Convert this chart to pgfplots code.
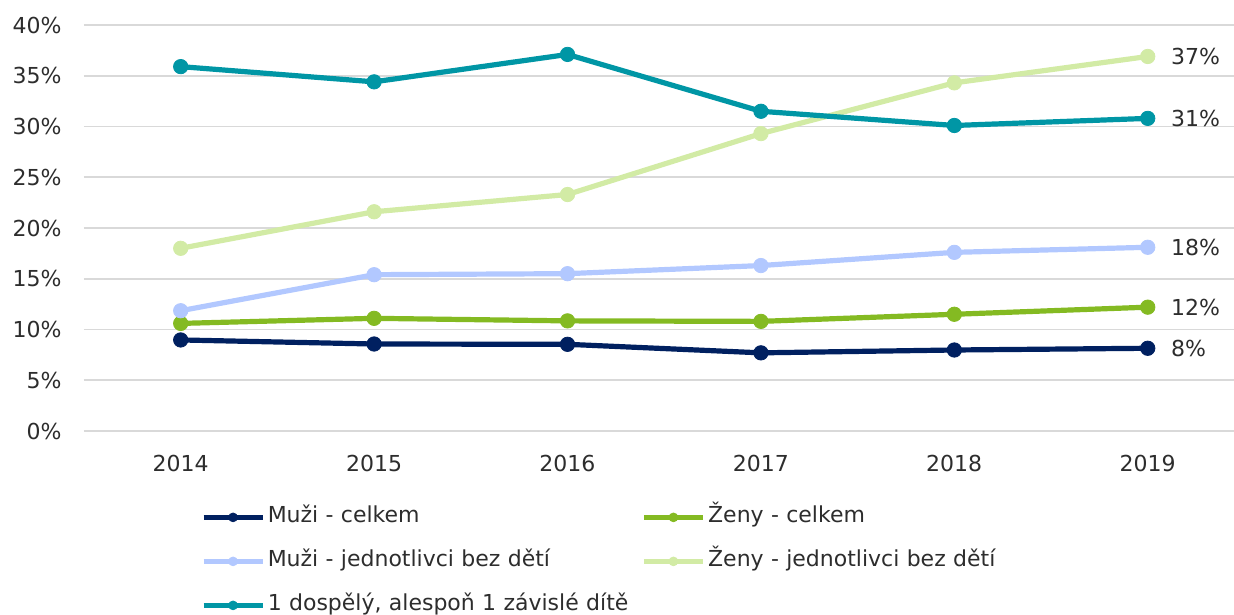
\documentclass[border=0pt]{standalone}
\usepackage{fontspec}
\setmainfont{DejaVu Sans}
\usepackage{pgfplots}
\usepackage{pgfplotstable}
\pgfplotsset{compat=1.18}

\definecolor{navyline}{RGB}{0,32,96}
\definecolor{greenline}{RGB}{132,186,34}
\definecolor{lightblue}{RGB}{178,200,255}
\definecolor{lightgreen}{RGB}{210,235,165}
\definecolor{tealline}{RGB}{0,150,165}
\definecolor{gridgray}{RGB}{217,217,217}
\definecolor{textgray}{RGB}{45,45,45}

% Podíl osob ohrožených příjmovou chudobou (%)
\pgfplotstableread{
year muzi  zeny  muzij zenyj dosp
2014 8.97  10.6  11.85 18.0  35.9
2015 8.57  11.1  15.4  21.6  34.4
2016 8.54  10.85 15.5  23.3  37.1
2017 7.7   10.8  16.3  29.3  31.5
2018 7.98  11.5  17.6  34.3  30.1
2019 8.15  12.2  18.1  36.9  30.8
}\chudoba

\pgfplotsset{
  serie/.style={color=#1, line width=2.6pt, mark=*, mark size=3.6pt,
    mark options={line width=0.4pt, fill=#1, draw=#1}},
  endlabel/.style={draw=none, mark=none, forget plot, point meta=y,
    restrict x to domain=2018.5:2019.5,
    nodes near coords={\pgfmathprintnumber[fixed,precision=0]{\pgfplotspointmeta}\%},
    every node near coord/.append style={anchor=west, inner sep=0pt,
      xshift=11.5pt, text=textgray}},
}

\begin{document}
\begin{tikzpicture}[font=\fontsize{11}{13}\selectfont]
\begin{axis}[
  name=ax,
  scale only axis,
  width=575pt, height=203pt,
  xmin=2013.5, xmax=2019.446,
  ymin=0, ymax=40,
  xtick={2014,...,2019},
  ytick={0,5,...,40},
  /pgf/number format/assume math mode=true,
  /pgf/number format/1000 sep={},
  yticklabel={\pgfmathprintnumber{\tick}\%},
  ymajorgrids,
  major grid style={draw=gridgray, line width=0.9pt},
  axis line style={draw=none},
  major tick length=0pt,
  tick label style={text=textgray},
  yticklabel style={inner sep=0pt, xshift=-11pt},
  xticklabel style={inner sep=0pt, anchor=north, yshift=-12pt},
  clip=false,
  legend columns=2,
  legend cell align=left,
  legend style={
    at={(0.1017,-0.1798)}, anchor=north west,
    draw=none, fill=none, inner sep=0pt,
    row sep=9pt, column sep=0pt,
    nodes={inner sep=1.5pt, text width=185.5pt, text height=0.75em,
      text depth=0.25em, text=textgray},
  },
  legend image code/.code={
    \draw[mark repeat=2, mark phase=2, #1, line width=2.2pt, mark size=2.2pt]
      plot coordinates {(0pt,0pt) (14.75pt,0pt) (29.5pt,0pt)};
  },
]
\addplot[serie=navyline]   table[x=year, y=muzi]  {\chudoba};
\addlegendentry{Muži - celkem}
\addplot[serie=greenline]  table[x=year, y=zeny]  {\chudoba};
\addlegendentry{Ženy - celkem}
\addplot[serie=lightblue]  table[x=year, y=muzij] {\chudoba};
\addlegendentry{Muži - jednotlivci bez dětí}
\addplot[serie=lightgreen] table[x=year, y=zenyj] {\chudoba};
\addlegendentry{Ženy - jednotlivci bez dětí}
\addplot[serie=tealline]   table[x=year, y=dosp]  {\chudoba};
\addlegendentry{1 dospělý, alespoň 1 závislé dítě}

% hodnoty za poslední rok vpravo od bodů
\addplot[endlabel] table[x=year, y=muzi]  {\chudoba};
\addplot[endlabel] table[x=year, y=zeny]  {\chudoba};
\addplot[endlabel] table[x=year, y=muzij] {\chudoba};
\addplot[endlabel] table[x=year, y=zenyj] {\chudoba};
\addplot[endlabel] table[x=year, y=dosp]  {\chudoba};
\end{axis}
\pgfresetboundingbox
\path ([xshift=-42pt,yshift=-92pt]ax.south west) rectangle ([yshift=12.5pt]ax.north east);
\end{tikzpicture}
\end{document}
